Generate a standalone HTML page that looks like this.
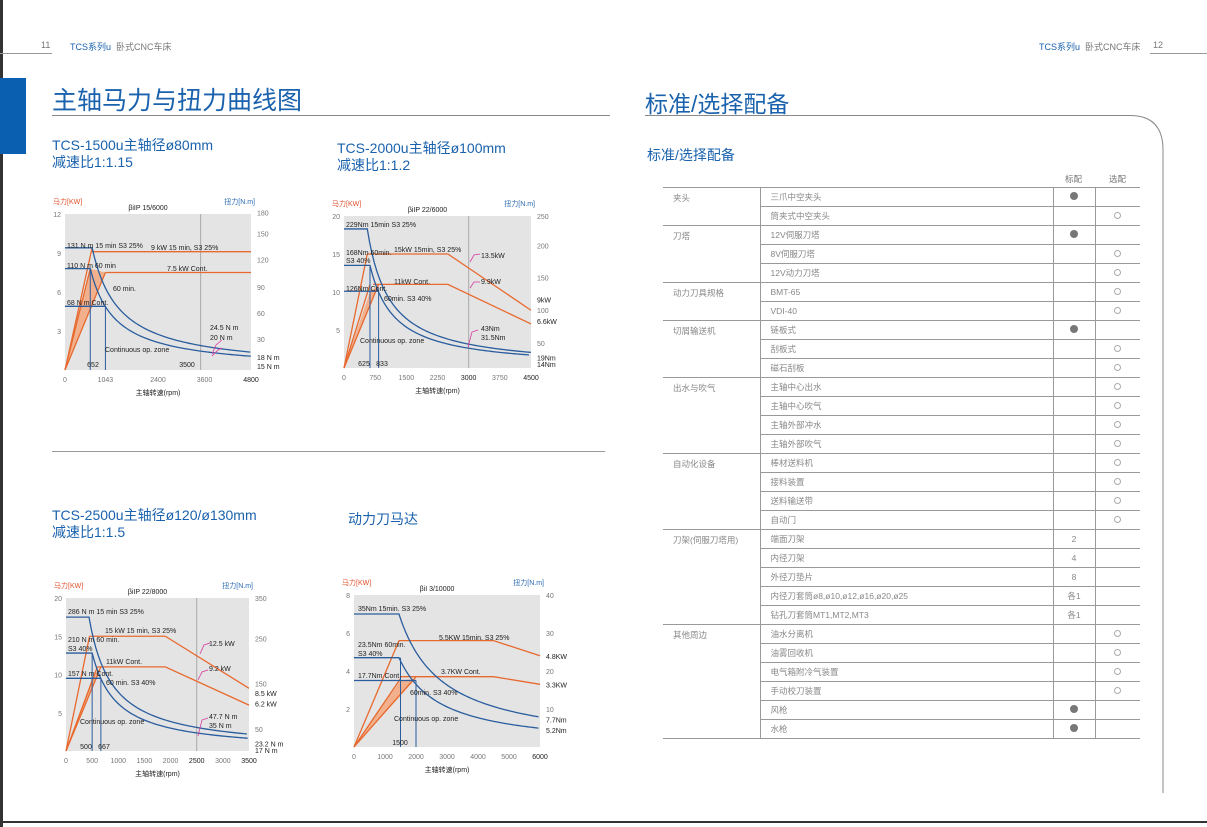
<!DOCTYPE html>
<html><head><meta charset="utf-8"><style>
*{margin:0;padding:0;box-sizing:border-box}
body{width:1207px;height:827px;background:#fff;position:relative;overflow:hidden;font-family:"Liberation Sans","Noto Sans CJK SC",sans-serif}
.a{position:absolute;white-space:nowrap}
.blue{color:#1a62ad}
.g{color:#777}
td{font-size:8.5px;color:#888;height:19px;padding-left:10px;border-bottom:1px solid #999;vertical-align:middle}
table{border-collapse:collapse;position:absolute;left:663px;top:187px;width:477px;border-top:1px solid #999}
</style></head><body>
<div class="a" style="left:0;top:0;width:3px;height:827px;background:#333"></div>
<div class="a" style="left:0;top:821px;width:1207px;height:2px;background:#333"></div>
<div class="a" style="left:0;top:53px;width:52px;height:1px;background:#999"></div>
<div class="a g" style="left:41px;top:40px;font-size:9px">11</div>
<div class="a" style="left:70px;top:40px;font-size:9px"><span class="blue">TCS系列u</span> <span class="g">&nbsp;卧式CNC车床</span></div>
<div class="a" style="left:1039px;top:40px;font-size:9px"><span class="blue">TCS系列u</span> <span class="g">&nbsp;卧式CNC车床</span></div>
<div class="a g" style="left:1153px;top:40px;font-size:9px">12</div>
<div class="a" style="left:1150px;top:53px;width:57px;height:1px;background:#999"></div>
<div class="a" style="left:0;top:78px;width:26px;height:76px;background:#0b5fb0"></div>
<div class="a blue" style="left:52px;top:81px;font-size:25px">主轴马力与扭力曲线图</div>
<div class="a" style="left:52px;top:115px;width:558px;height:1px;background:#888"></div>
<div class="a blue" style="left:645px;top:85px;font-size:23px">标准/选择配备</div>
<div class="a" style="left:645px;top:115px;width:485px;height:1px;background:#888"></div>
<svg class="a" style="left:1125px;top:115px" width="40" height="680"><path d="M5 0.5 Q38 0.5 38 35 V678" fill="none" stroke="#888" stroke-width="1"/></svg>
<div class="a blue" style="left:647px;top:145px;font-size:14px">标准/选择配备</div>
<div class="a g" style="left:1065px;top:173px;font-size:8.5px">标配</div>
<div class="a g" style="left:1109px;top:173px;font-size:8.5px">选配</div>

<div class="a blue" style="left:52px;top:137px;font-size:14px;line-height:17px">TCS-1500u主轴径ø80mm<br>减速比1:1.15</div>
<div class="a blue" style="left:337px;top:140px;font-size:14px;line-height:17px">TCS-2000u主轴径ø100mm<br>减速比1:1.2</div>
<div class="a" style="left:52px;top:451px;width:553px;height:1px;background:#999"></div>
<div class="a blue" style="left:52px;top:507px;font-size:14px;line-height:17px">TCS-2500u主轴径ø120/ø130mm<br>减速比1:1.5</div>
<div class="a blue" style="left:348px;top:509px;font-size:14px">动力刀马达</div>

<table id="t"></table>
<svg id="c" class="a" style="left:0;top:0" width="1207" height="827" font-family="Liberation Sans, Noto Sans CJK SC, sans-serif"></svg>
<script>
var rows=[["夹头",["三爪中空夹头","●"],["筒夹式中空夹头","○"]],["刀塔",["12V伺服刀塔","●"],["8V伺服刀塔","○"],["12V动力刀塔","○"]],["动力刀具规格",["BMT-65","○"],["VDI-40","○"]],["切屑输送机",["链板式","●"],["刮板式","○"],["磁石刮板","○"]],["出水与吹气",["主轴中心出水","○"],["主轴中心吹气","○"],["主轴外部冲水","○"],["主轴外部吹气","○"]],["自动化设备",["棒材送料机","○"],["接料装置","○"],["送料输送带","○"],["自动门","○"]],["刀架(伺服刀塔用)",["端面刀架","2"],["内径刀架","4"],["外径刀垫片","8"],["内径刀套筒ø8,ø10,ø12,ø16,ø20,ø25","各1"],["钻孔刀套筒MT1,MT2,MT3","各1"]],["其他周边",["油水分离机","○"],["油雾回收机","○"],["电气箱附冷气装置","○"],["手动校刀装置","○"],["风枪","●"],["水枪","●"]]];
var h="";
rows.forEach(function(g){for(var i=1;i<g.length;i++){var r=g[i],m=r[1],s="",o="";
if(m=="●")s='<span style="display:inline-block;width:8px;height:8px;border-radius:50%;background:#777"></span>';
else if(m=="○")o='<span style="display:inline-block;width:7px;height:7px;border-radius:50%;border:1px solid #aaa"></span>';else s=m;
h+="<tr>"+(i==1?'<td rowspan="'+(g.length-1)+'" style="width:97px;vertical-align:top;padding-top:4px">'+g[0]+"</td>":"")+'<td style="width:293px;border-left:1px solid #999">'+r[0]+'</td><td style="width:42px;border-left:1px solid #999;padding:0;text-align:center">'+s+'</td><td style="border-left:1px solid #999;padding:0;text-align:center">'+o+"</td></tr>";}});
document.getElementById("t").innerHTML=h;

var S="";
function T(x,y,t,c,sz,a){S+='<text x="'+x+'" y="'+y+'" font-size="'+(sz||7)+'" fill="'+(c||"#222")+'"'+(a?' text-anchor="'+a+'"':"")+'>'+t+'</text>';}
function chart(c){
 var X=function(n){return c.x0+(c.x1-c.x0)*n/c.xm},Y=function(v){return c.y1-(c.y1-c.y0)*v/c.ym};
 S+='<rect x="'+c.x0+'" y="'+c.y0+'" width="'+(c.x1-c.x0)+'" height="'+(c.y1-c.y0)+'" fill="#e4e4e4"/>';
 if(c.vl<c.xm)S+='<line x1="'+X(c.vl)+'" y1="'+c.y0+'" x2="'+X(c.vl)+'" y2="'+c.y1+'" stroke="#aaa"/>';
 var sh=c.sh.map(function(p){return X(p[0])+","+Y(p[1])}).join(" ");
 S+='<polygon points="'+sh+'" fill="#f2b08c"/>';
 c.or.forEach(function(l){S+='<polyline points="'+l.map(function(p){return X(p[0])+","+Y(p[1])}).join(" ")+'" fill="none" stroke="#e8692e" stroke-width="1.3"/>';});
 c.bl.forEach(function(b){var p=[X(0)+","+Y(b[0])];p.push(X(b[1])+","+Y(b[0]));
  if(b[2]){for(var n=b[1];n<=c.xm+1;n+=c.xm/80){var v=b[0]*Math.pow(b[1]/n,b[3]||1);p.push(X(n)+","+Y(v));}}
  S+='<polyline points="'+p.join(" ")+'" fill="none" stroke="#2a5d9e" stroke-width="1.3"/>';});
 c.vv.forEach(function(v){S+='<line x1="'+X(v[0])+'" y1="'+Y(v[1])+'" x2="'+X(v[0])+'" y2="'+c.y1+'" stroke="#2a5d9e" stroke-width="1"/>';});
 c.pk.forEach(function(p){S+='<polyline points="'+p.map(function(q){return q[0]+","+q[1]}).join(" ")+'" fill="none" stroke="#d63aa0" stroke-width="0.8"/>';});
 c.ly.forEach(function(v){T(c.x0-4,Y(v)+3,v,"#777",7,"end")});
 c.ry.forEach(function(r){T(c.x1+6,Y(r[1])+3,r[0],r[2]||"#777",7)});
 c.xt.forEach(function(n){T(X(n),c.y1+12,n,(n==c.vl||n==c.xm)?"#222":"#777",7,"middle")});
 T(c.x0-12,c.y0-10,"马力[KW]","#e0502a",7);T(c.x1+4,c.y0-10,"扭力[N.m]","#2a6ab0",7,"end");
 T((c.x0+c.x1)/2-10,c.y0-4,c.tt,"#222",7,"middle");
 T((c.x0+c.x1)/2,c.y1+25,"主轴转速(rpm)","#222",7,"middle");
 c.lb.forEach(function(l){T(l[0],l[1],l[2],"#222",7,l[3])});
}
var K="#222";
chart({x0:65,x1:251,y0:214,y1:370,xm:4800,ym:12,vl:3500,tt:"βiIP 15/6000",
 sh:[[0,0],[652,7.8],[1043,7.5]],
 or:[[[0,0],[700,9.4]],[[0,0],[652,7.8]],[[0,0],[1043,7.5]],[[700,9.1],[4800,9.1]],[[1043,7.5],[4800,7.5]]],
 bl:[[9.4,700,1],[7.8,652,1],[4.9,1043,0]],vv:[[652,7.8],[1043,4.9]],
 pk:[[[212,354],[216,345],[222,340]],[[212,356],[218,350],[222,348]]],
 ly:[3,6,9,12],ry:[["30",2.4],["60",4.4],["90",6.4],["120",8.5],["150",10.5],["180",12.1],["18 N m",1.0,K],["15 N m",0.3,K]],
 xt:[0,1043,2400,3600,4800],
 lb:[[67,248,"131 N m 15 min S3 25%"],[151,250,"9 kW 15 min, S3 25%"],[67,268,"110 N m 60 min"],[167,271,"7.5 kW Cont."],[67,305,"68 N m Cont."],[113,291,"60 min."],[105,352,"Continuous op. zone"],[93,367,"652","middle"],[187,367,"3500","middle"],[210,330,"24.5 N m"],[210,340,"20 N m"]]});
chart({x0:344,x1:531,y0:216,y1:368,xm:4500,ym:20,vl:3000,tt:"βiIP 22/6000",
 sh:[[0,0],[625,10],[833,11]],
 or:[[[0,0],[560,15]],[[0,0],[625,11]],[[0,0],[833,11]],[[560,15],[2500,15],[4500,7.6]],[[700,11],[2500,11],[4500,5.8]]],
 bl:[[18.3,560,1,1.05],[13.5,625,1,1.05],[10.1,833,0]],vv:[[625,13.5],[833,10.1]],
 pk:[[[470,262],[474,255],[480,254]],[[470,288],[474,282],[480,282]],[[468,347],[472,332],[478,330]]],
 ly:[5,10,15,20],ry:[["50",3.3],["100",7.6],["150",11.9],["200",16.1],["250",20],["9kW",9.0,K],["6.6kW",6.2,K],["19Nm",1.4,K],["14Nm",0.5,K]],
 xt:[0,750,1500,2250,3000,3750,4500],
 lb:[[346,227,"229Nm 15min S3 25%"],[394,252,"15kW 15min, S3 25%"],[346,255,"168Nm 60min."],[346,263,"S3 40%"],[394,284,"11kW Cont."],[481,258,"13.5kW"],[481,284,"9.9kW"],[346,291,"126Nm Cont."],[384,301,"60min. S3 40%"],[360,343,"Continuous op. zone"],[364,366,"625","middle"],[382,366,"833","middle"],[481,331,"43Nm"],[481,340,"31.5Nm"]]});
chart({x0:66,x1:249,y0:598,y1:751,xm:3500,ym:20,vl:2500,tt:"βiIP 22/8000",
 sh:[[0,0],[500,9.5],[667,11]],
 or:[[[0,0],[450,15]],[[0,0],[600,11]],[[0,0],[667,11]],[[450,15],[1900,15],[3500,8.2]],[[600,11],[1900,11],[3500,6]]],
 bl:[[17.5,440,1],[12.8,500,1,1.05],[9.5,667,0]],vv:[[500,12.8],[667,9.5]],
 pk:[[[200,654],[204,645],[210,643]],[[198,680],[202,672],[208,670]],[[198,736],[202,720],[208,718]]],
 ly:[5,10,15,20],ry:[["50",2.9],["150",8.8],["250",14.7],["350",20],["8.5 kW",7.6,K],["6.2 kW",6.2,K],["23.2 N m",1.0,K],["17 N m",0.1,K]],
 xt:[0,500,1000,1500,2000,2500,3000,3500],
 lb:[[68,614,"286 N m 15 min S3 25%"],[105,633,"15 kW 15 min, S3 25%"],[68,642,"210 N m 60  min."],[68,651,"S3 40%"],[106,664,"11kW Cont."],[209,646,"12.5 kW"],[209,671,"9.2 kW"],[68,676,"157 N m Cont."],[106,685,"60 min. S3 40%"],[80,724,"Continuous op. zone"],[86,749,"500","middle"],[104,749,"667","middle"],[209,719,"47.7 N m"],[209,728,"35 N m"]]});
chart({x0:354,x1:540,y0:595,y1:747,xm:6000,ym:8,vl:99999,tt:"βiI 3/10000",
 sh:[[0,0],[1500,3.5],[2000,3.6]],
 or:[[[0,0],[1450,5.6]],[[0,0],[1500,3.6]],[[0,0],[2000,3.7]],[[1450,5.6],[4500,5.6],[6000,4.8]],[[1500,3.7],[4500,3.7],[6000,3.3]]],
 bl:[[7,1450,1,1.05],[4.7,1450,1,1.1],[3.5,2000,0]],vv:[[1500,4.7],[2000,3.5]],
 pk:[],
 ly:[2,4,6,8],ry:[["10",2],["20",4],["30",6],["40",8],["4.8KW",4.8,K],["3.3KW",3.3,K],["7.7Nm",1.45,K],["5.2Nm",0.9,K]],
 xt:[0,1000,2000,3000,4000,5000,6000],
 lb:[[358,611,"35Nm 15min. S3 25%"],[439,640,"5.5KW 15min. S3 25%"],[358,647,"23.5Nm 60min."],[358,656,"S3 40%"],[441,674,"3.7KW Cont."],[358,678,"17.7Nm Cont."],[410,695,"60min. S3 40%"],[394,721,"Continuous op. zone"],[400,745,"1500","middle"]]});
document.getElementById("c").innerHTML=S;
</script>
</body></html>
